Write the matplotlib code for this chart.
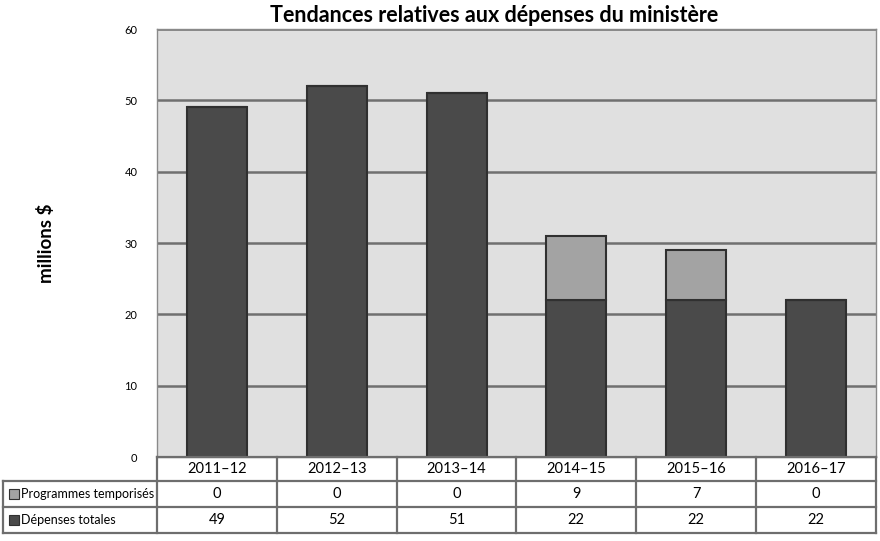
import matplotlib
matplotlib.use("Agg")
import matplotlib.pyplot as plt
from matplotlib.patches import Rectangle
from matplotlib.lines import Line2D

years = ["2011\u201312", "2012\u201313", "2013\u201314", "2014\u201315", "2015\u201316", "2016\u201317"]
depenses = [49, 52, 51, 22, 22, 22]
temporises = [0, 0, 0, 9, 7, 0]
series_names = ["Programmes temporisés", "Dépenses totales"]

dark = "#4a4a4a"
light = "#a3a3a3"
edge = "#303030"
grid = "#707070"

plt.rcParams["font.family"] = ["Lato", "DejaVu Sans"]

fig = plt.figure(figsize=(8.8, 5.41), dpi=100)
W, H = 880, 541
ax = fig.add_axes([157 / W, (H - 457) / H, 719 / W, 428 / H])
ax.set_facecolor("#e0e0e0")

x = range(len(years))
ax.bar(x, depenses, width=0.5, color=dark, edgecolor=edge, linewidth=1.5, zorder=3)
ax.bar(x, temporises, width=0.5, bottom=depenses, color=light, edgecolor=edge, linewidth=1.5, zorder=3)

ax.set_xlim(-0.5, len(years) - 0.5)
ax.set_ylim(0, 60)
ax.set_yticks(range(0, 61, 10))
ax.yaxis.grid(True, color=grid, linewidth=1.8, zorder=1)
ax.set_xticks([])
ax.tick_params(axis="y", length=0, pad=14, labelsize=8)
for s in ax.spines.values():
    s.set_color("#8a8a8a")
    s.set_linewidth(1)

fig.text(494 / W, 1 - 15 / H, "Tendances relatives aux dépenses du ministère",
         ha="center", va="center", fontsize=15.5, fontweight="bold")
fig.text(46 / W, 1 - 243 / H, "millions $", rotation=90, ha="center", va="center",
         fontsize=13.5, fontweight="bold")

# data table under the plot, in pixel coordinates
col_x = [157 + 119.8 * i for i in range(len(years) + 1)]
row_y = [457, 481, 507, 533]
lc = "#6e6e6e"
lw = 1.6
for xv in col_x:
    fig.add_artist(Line2D([xv / W, xv / W], [1 - row_y[0] / H, 1 - row_y[-1] / H], color=lc, lw=lw))
fig.add_artist(Line2D([3 / W, 3 / W], [1 - row_y[1] / H, 1 - row_y[-1] / H], color=lc, lw=lw))
for i, yv in enumerate(row_y):
    x0 = 157 if i == 0 else 3
    fig.add_artist(Line2D([x0 / W, col_x[-1] / W], [1 - yv / H, 1 - yv / H], color=lc, lw=lw))

for i, yr in enumerate(years):
    cx = (col_x[i] + col_x[i + 1]) / 2
    fig.text(cx / W, 1 - 469 / H, yr, ha="center", va="center", fontsize=10.5)
    fig.text(cx / W, 1 - 494 / H, str(temporises[i]), ha="center", va="center", fontsize=10.5)
    fig.text(cx / W, 1 - 520 / H, str(depenses[i]), ha="center", va="center", fontsize=10.5)

for name, yc, col in [(series_names[0], 494, light), (series_names[1], 520, dark)]:
    fig.add_artist(Rectangle((9 / W, 1 - (yc + 5) / H), 10 / W, 10 / H, facecolor=col,
                             edgecolor=edge, lw=0.8))
    fig.text(21 / W, 1 - yc / H, name, ha="left", va="center", fontsize=9)

fig.savefig("out.png", dpi=100, facecolor="white")
